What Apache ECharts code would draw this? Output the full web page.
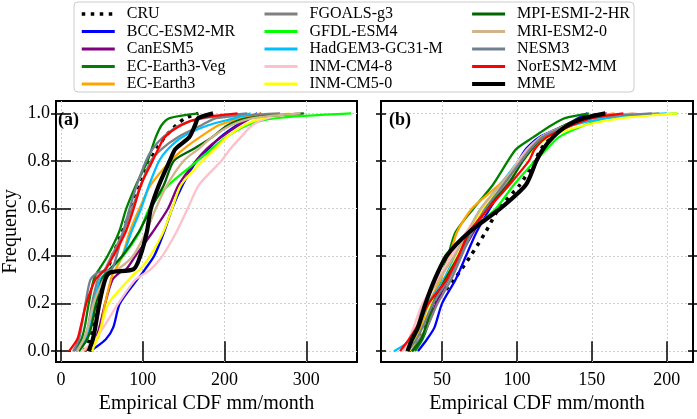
<!DOCTYPE html>
<html>
<head>
<meta charset="utf-8">
<script src="https://cdn.jsdelivr.net/npm/echarts@6/dist/echarts.min.js"></script>
<style>
  html, body { margin: 0; padding: 0; background: #fff; }
  #main { width: 697px; height: 419px; }
</style>
</head>
<body>
<div id="main"></div>
<script>
// model names, colors
var models = ['CRU', 'BCC-ESM2-MR', 'CanESM5', 'EC-Earth3-Veg', 'EC-Earth3',
  'FGOALS-g3', 'GFDL-ESM4', 'HadGEM3-GC31-M', 'INM-CM4-8', 'INM-CM5-0',
  'MPI-ESMI-2-HR', 'MRI-ESM2-0', 'NESM3', 'NorESM2-MM', 'MME'];
var colors = ['#000000', '#0000ff', '#800080', '#008000', '#ffa500',
  '#808080', '#00ff00', '#00bfff', '#ffc0cb', '#ffff00',
  '#006400', '#d2b48c', '#708090', '#ff0000', '#000000'];

// (a) cumulative frequency levels and the mm/month value reached at each
var probsA = [0, 0.05, 0.1, 0.2, 0.3, 0.33, 0.345, 0.4, 0.5, 0.6, 0.7, 0.8, 0.85, 0.9, 0.95, 0.98, 1.0];
var aCRU    = [28, 35, 38, 44, 52, 55, 57, 63, 75, 86, 97, 109, 117, 127, 141, 152, 168];
var aBCC    = [36, 55, 64, 72, 93, 100, 103, 114, 126, 136, 149, 166, 180, 195, 215, 230, 240];
var aCan    = [30, 42, 47, 54, 63, 72, 80, 91, 112, 131, 144, 165, 178, 196, 217, 232, 245];
var aVeg    = [16, 25, 29, 34, 40, 44, 47, 57, 71, 80, 92, 106, 111, 116, 123, 133, 168];
var aEC3    = [28, 44, 49, 54, 61, 64, 67, 75, 84, 96, 110, 134, 150, 170, 193, 222, 245];
var aFGOALS = [18, 28, 33, 38, 45, 50, 54, 62, 76, 87, 98, 110, 123, 143, 172, 190, 268];
var aGFDL   = [22, 32, 36, 42, 49, 55, 60, 76, 96, 108, 132, 167, 184, 202, 228, 262, 355];
var aHad    = [20, 30, 35, 40, 48, 55, 60, 75, 86, 98, 108, 120, 131, 148, 180, 213, 232];
var aCM48   = [26, 42, 52, 70, 91, 104, 110, 124, 141, 155, 169, 196, 207, 220, 234, 252, 289];
var aCM50   = [38, 44, 49, 58, 83, 91, 97, 109, 125, 136, 147, 173, 188, 203, 224, 246, 280];
var aMPI    = [22, 32, 37, 43, 50, 56, 60, 75, 95, 110, 126, 138, 162, 185, 204, 228, 297];
var aMRI    = [20, 28, 33, 40, 52, 60, 70, 88, 104, 116, 130, 150, 168, 185, 208, 235, 293];
var aNESM   = [15, 22, 25, 30, 36, 45, 62, 68, 76, 84, 93, 104, 112, 125, 145, 175, 228];
var aNor    = [10, 20, 24, 31, 42, 50, 55, 64, 79, 89, 98, 112, 119, 127, 147, 170, 216];
var aMME    = [34, 39, 42, 47, 54, 60, 89, 97, 105, 110, 120, 133, 140, 157, 164, 168, 186];

// (b)
var probsB = [0, 0.05, 0.1, 0.2, 0.3, 0.4, 0.5, 0.6, 0.7, 0.8, 0.85, 0.9, 0.95, 0.98, 1.0];
var bCRU    = [28, 33, 37, 45, 58, 69, 79, 88, 102, 112, 116, 123, 135, 145, 157];
var bBCC    = [34, 40, 45, 50, 59, 66, 73, 82, 92, 101, 106, 115, 132, 141, 147];
var bCan    = [30, 36, 40, 46, 54, 62, 71, 80, 92, 103, 109, 117, 134, 145, 160];
var bVeg    = [32, 37, 40, 44, 49, 54, 59, 71, 84, 94, 99.5, 111, 123, 132, 148];
var bEC3    = [27, 32, 36, 41, 49, 55, 60, 70, 88, 103, 110, 118, 133, 145, 165];
var bFGOALS = [29, 35, 40, 47, 56, 63, 70, 80, 92, 104, 110, 118, 135, 150, 195];
var bGFDL   = [27, 31, 34, 38, 46, 52, 68, 86, 98, 112, 120, 128, 145, 160, 207];
var bHad    = [18, 30, 34, 41, 51, 59, 67, 76, 89, 101, 108, 116, 137, 160, 200];
var bCM48   = [24, 28, 31, 37, 47, 56, 66, 77, 90, 101, 107, 116, 133, 148, 180];
var bCM50   = [28, 33, 37, 43, 52, 60, 68, 78, 91, 104, 111, 121, 145, 170, 207];
var bMPI    = [30, 36, 39, 44, 52, 61, 69, 80, 94, 104, 110, 117, 132, 143, 158];
var bMRI    = [26, 30, 33, 38, 48, 58, 67, 76, 89, 102, 108, 116, 133, 148, 178];
var bNESM   = [27, 33, 37, 44, 54, 62, 70, 79, 91, 103, 109, 117, 134, 148, 190];
var bNor    = [22, 28, 33, 41, 53, 61, 68, 81, 95, 108, 112, 120, 137, 150, 171];
var bMME    = [27, 30, 34, 39, 45, 53, 68, 89, 106, 113, 117.5, 124, 134, 145, 159];

var xTicksA = [0, 100, 200, 300];
var xTicksB = [50, 100, 150, 200];
var yTicks = [0, 0.2, 0.4, 0.6, 0.8, 1.0];

var panelA = [aCRU, aBCC, aCan, aVeg, aEC3, aFGOALS, aGFDL, aHad, aCM48, aCM50, aMPI, aMRI, aNESM, aNor, aMME];
var panelB = [bCRU, bBCC, bCan, bVeg, bEC3, bFGOALS, bGFDL, bHad, bCM48, bCM50, bMPI, bMRI, bNESM, bNor, bMME];

var FONT = 'Liberation Serif';
var chart = echarts.init(document.getElementById('main'));

function lineStyleOf(i, w) {
  if (models[i] == 'CRU') return { color: '#000', width: 3.5, type: [3.5, 5.5] };
  if (models[i] == 'MME') return { color: '#000', width: 4.2 };
  return { color: colors[i], width: w };
}

// frame ticks cross the border: axis pulled 5px inside, ticks 10px long
function xAxes(grid, min, max, ticks) {
  var base = {
    type: 'value', gridIndex: grid, min: min, max: max, offset: -5,
    axisLine: { show: false },
    axisTick: { show: true, length: 10, customValues: ticks, lineStyle: { color: '#000', width: 1.5 } },
    axisLabel: { show: false },
    splitLine: { show: false }
  };
  var bottom = echarts.util.merge({
    position: 'bottom',
    axisLabel: { show: true, customValues: ticks, margin: 14, color: '#000', fontSize: 18, fontFamily: FONT },
    splitLine: { show: true, lineStyle: { color: '#cfcfcf', width: 1, type: [2, 2] } },
    name: 'Empirical CDF mm/month', nameLocation: 'middle', nameGap: 30,
    nameTextStyle: { color: '#000', fontSize: 20, fontFamily: FONT }
  }, base, false);
  var top = echarts.util.merge({ position: 'top' }, base, false);
  return [bottom, top];
}

function yAxes(grid, labels) {
  var base = {
    type: 'value', gridIndex: grid, min: -0.046, max: 1.052, offset: -5,
    axisLine: { show: false },
    axisTick: { show: true, length: 10, customValues: yTicks, lineStyle: { color: '#000', width: 1.5 } },
    axisLabel: { show: false },
    splitLine: { show: false }
  };
  var left = echarts.util.merge({
    position: 'left',
    splitLine: { show: true, lineStyle: { color: '#cfcfcf', width: 1, type: [2, 2] } }
  }, base, false);
  if (labels) {
    left.axisLabel = { show: true, customValues: yTicks, margin: 11, color: '#000', fontSize: 18, fontFamily: FONT,
      formatter: function (v) { return v.toFixed(1); } };
    left.name = 'Frequency';
    left.nameLocation = 'middle';
    left.nameGap = 40;
    left.nameTextStyle = { color: '#000', fontSize: 20, fontFamily: FONT };
  }
  var right = echarts.util.merge({ position: 'right' }, base, false);
  return [left, right];
}

var series = [];
models.forEach(function (m, i) {
  series.push({
    name: m, type: 'line', xAxisIndex: 0, yAxisIndex: 0, symbol: 'none',
    smooth: 0.25, lineStyle: lineStyleOf(i, 2.3), itemStyle: { color: colors[i] },
    data: panelA[i].map(function (x, k) { return [x, probsA[k]]; })
  });
  series.push({
    name: m, type: 'line', xAxisIndex: 2, yAxisIndex: 2, symbol: 'none',
    smooth: 0.25, lineStyle: lineStyleOf(i, 2.3), itemStyle: { color: colors[i] },
    data: panelB[i].map(function (x, k) { return [x, probsB[k]]; })
  });
});

function legendCol(names, left) {
  return {
    orient: 'vertical', left: left, top: 6, padding: 0, itemGap: 1.5,
    itemWidth: 33, itemHeight: 12, selectedMode: false,
    textStyle: { color: '#000', fontSize: 16, fontFamily: FONT, lineHeight: 14, padding: [0, 0, 0, 7] },
    data: names.map(function (n) {
      var i = models.indexOf(n);
      return { name: n, lineStyle: lineStyleOf(i, 3), itemStyle: { opacity: 0 } };
    })
  };
}

var option = {
  animation: false,
  backgroundColor: '#fff',
  grid: [
    { left: 53, top: 101, width: 304, height: 270, show: true, borderColor: '#000', borderWidth: 2 },
    { left: 381, top: 101, width: 312, height: 270, show: true, borderColor: '#000', borderWidth: 2 }
  ],
  xAxis: xAxes(0, -6, 362, xTicksA).concat(xAxes(1, 9.3, 217.5, xTicksB)),
  yAxis: yAxes(0, true).concat(yAxes(1, false)),
  legend: [
    legendCol(models.slice(0, 5), 80),
    legendCol(models.slice(5, 10), 263),
    legendCol(models.slice(10, 15), 470)
  ],
  graphic: [
    { type: 'rect', z: -1, shape: { x: 74, y: 2, width: 560, height: 90, r: 4 },
      style: { fill: '#fff', stroke: '#cccccc', lineWidth: 1 } },
    { type: 'text', left: 58, top: 111, z: 10,
      style: { text: '(a)', fill: '#000', font: 'bold 18px "Liberation Serif"' } },
    { type: 'text', left: 389, top: 111, z: 10,
      style: { text: '(b)', fill: '#000', font: 'bold 18px "Liberation Serif"' } }
  ],
  series: series
};
chart.setOption(option);
</script>
</body>
</html>
